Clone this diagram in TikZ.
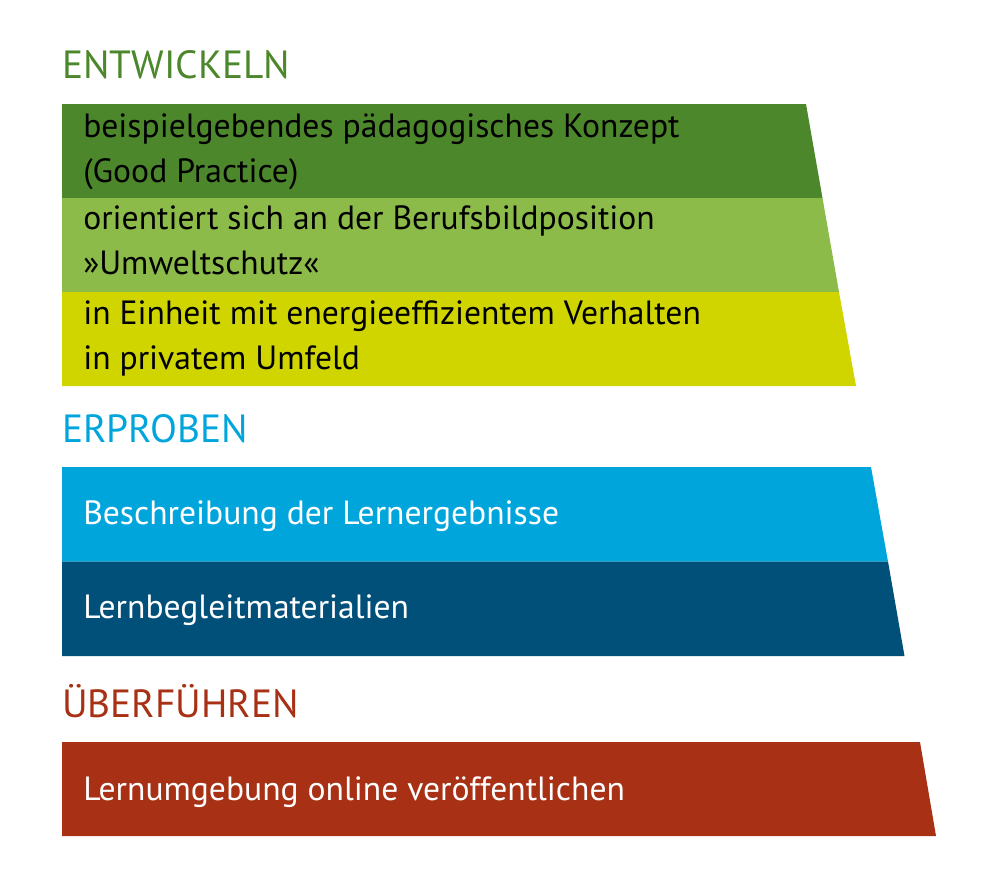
\documentclass[tikz,border=0pt]{standalone}
\usepackage{xcolor}
\usepackage{fontspec}
\setmainfont{PT Sans}

\definecolor{entwgreen}{RGB}{76,135,43}
\definecolor{lightgreen}{RGB}{140,187,74}
\definecolor{limegreen}{RGB}{208,213,0}
\definecolor{erpblue}{RGB}{0,165,220}
\definecolor{darkblue}{RGB}{0,80,122}
\definecolor{uebred}{RGB}{168,48,21}

\tikzset{
  headtext/.style={anchor=base west,inner sep=0pt,font=\fontsize{29.5}{34}\selectfont},
  bandtext/.style={anchor=base west,inner sep=0pt,align=left,font=\fontsize{25.2}{33.75}\selectfont}
}

\begin{document}
\begin{tikzpicture}[x=0.75pt,y=0.75pt,yscale=-1,xscale=1]
\useasboundingbox (0,0) rectangle (1000,885);

%Shape: Trapezoid
\fill [entwgreen] (62,104) -- (806,104) -- (822.5,198) -- (62,198) -- cycle ;
%Shape: Trapezoid
\fill [lightgreen] (62,198) -- (822.5,198) -- (839,292) -- (62,292) -- cycle ;
%Shape: Trapezoid
\fill [limegreen] (62,292) -- (839,292) -- (856,386) -- (62,386) -- cycle ;
%Shape: Trapezoid
\fill [erpblue] (62,467) -- (871,467) -- (888,561.5) -- (62,561.5) -- cycle ;
%Shape: Trapezoid
\fill [darkblue] (62,561.5) -- (888,561.5) -- (904.5,656) -- (62,656) -- cycle ;
%Shape: Trapezoid
\fill [uebred] (62,742) -- (920,742) -- (936,836) -- (62,836) -- cycle ;

% Text Node (base = last line)
\node (entwickeln) at (62,78) [headtext,text=entwgreen] {ENTWICKELN};
% Text Node
\node (konzept) at (83,182) [bandtext] {beispielgebendes pädagogisches Konzept\\(Good Practice)};
% Text Node
\node (position) at (83,274) [bandtext] {orientiert sich an der Berufsbildposition\\»Umweltschutz«};
% Text Node
\node (verhalten) at (83,369) [bandtext] {in Einheit mit energieeffizientem Verhalten\\in privatem Umfeld};
% Text Node
\node (erproben) at (62,442.5) [headtext,text=erpblue] {ERPROBEN};
% Text Node
\node (ergebnisse) at (83,524) [bandtext,text=white] {Beschreibung der Lernergebnisse};
% Text Node
\node (materialien) at (83,618) [bandtext,text=white] {Lernbegleitmaterialien};
% Text Node
\node (ueberfuehren) at (62,717) [headtext,text=uebred] {ÜBERFÜHREN};
% Text Node
\node (online) at (83,800) [bandtext,text=white] {Lernumgebung online veröffentlichen};

\end{tikzpicture}
\end{document}
